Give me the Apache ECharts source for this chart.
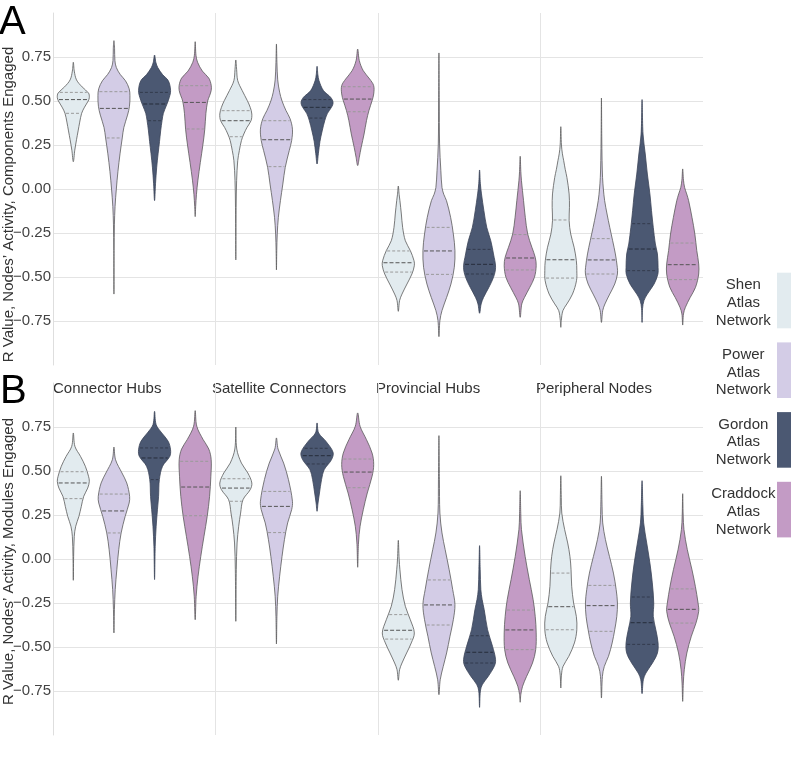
<!DOCTYPE html>
<html>
<head>
<meta charset="utf-8">
<script src="https://cdn.jsdelivr.net/npm/echarts@6.0.0/dist/echarts.min.js"></script>
<style>
  html, body { margin: 0; padding: 0; background: #fff; }
  #main { width: 793px; height: 761px; }
</style>
</head>
<body>
<div id="main"></div>
<script>
const groups = ['Connector Hubs', 'Satellite Connectors', 'Provincial Hubs', 'Peripheral Nodes']
const atlases = ['Shen', 'Power', 'Gordon', 'Craddock']
const yTicks = [-0.75, -0.5, -0.25, 0, 0.25, 0.5, 0.75]

// violin outlines, [value, relative half width], top to bottom
// order: group by group, Shen / Power / Gordon / Craddock inside each group
const shapesA = [
  [[0.72,0],[0.67,0.06],[0.62,0.2],[0.58,0.55],[0.545,0.95],[0.52,1],[0.50,0.93],[0.465,0.7],[0.43,0.52],[0.38,0.4],[0.33,0.3],[0.28,0.2],[0.22,0.09],[0.155,0]],
  [[0.843,0],[0.80,0.04],[0.73,0.06],[0.69,0.15],[0.65,0.4],[0.615,0.72],[0.57,0.95],[0.53,1],[0.47,0.97],[0.42,0.85],[0.35,0.62],[0.29,0.52],[0.2,0.38],[0.1,0.25],[0.0,0.15],[-0.1,0.07],[-0.2,0.03],[-0.35,0.01],[-0.597,0]],
  [[0.761,0],[0.72,0.08],[0.69,0.2],[0.65,0.5],[0.615,0.86],[0.56,1],[0.52,0.92],[0.47,0.72],[0.43,0.55],[0.39,0.47],[0.33,0.38],[0.27,0.31],[0.2,0.22],[0.12,0.13],[0.03,0.06],[-0.066,0]],
  [[0.837,0],[0.76,0.05],[0.72,0.15],[0.67,0.45],[0.63,0.85],[0.59,1],[0.56,1],[0.53,0.9],[0.50,0.78],[0.43,0.67],[0.34,0.6],[0.25,0.48],[0.15,0.32],[0.05,0.17],[-0.03,0.08],[-0.1,0.03],[-0.157,0]],
  [[0.733,0],[0.68,0.05],[0.616,0.12],[0.559,0.4],[0.502,0.72],[0.464,0.9],[0.426,1],[0.388,0.95],[0.35,0.7],[0.3125,0.5],[0.275,0.35],[0.218,0.22],[0.161,0.12],[0.047,0.05],[-0.104,0.02],[-0.403,0]],
  [[0.824,0],[0.72,0.03],[0.62,0.08],[0.55,0.2],[0.50,0.35],[0.445,0.6],[0.40,0.85],[0.34,1],[0.275,0.95],[0.218,0.8],[0.123,0.55],[0.028,0.4],[-0.066,0.25],[-0.161,0.12],[-0.256,0.05],[-0.35,0.02],[-0.46,0]],
  [[0.697,0],[0.65,0.05],[0.616,0.12],[0.559,0.4],[0.521,0.85],[0.492,1],[0.464,0.9],[0.43,0.65],[0.388,0.48],[0.33,0.32],[0.27,0.18],[0.2,0.08],[0.142,0]],
  [[0.795,0],[0.73,0.1],[0.672,0.35],[0.625,0.75],[0.587,1],[0.54,1],[0.502,0.9],[0.445,0.7],[0.388,0.55],[0.3125,0.4],[0.237,0.22],[0.18,0.1],[0.133,0]],
  [[0.017,0],[-0.03,0.05],[-0.066,0.1],[-0.142,0.19],[-0.218,0.27],[-0.294,0.44],[-0.35,0.75],[-0.407,0.98],[-0.436,1],[-0.483,0.85],[-0.54,0.54],[-0.597,0.23],[-0.634,0.08],[-0.695,0]],
  [[0.773,0],[0.5,0.02],[0.256,0.04],[0.104,0.12],[0.009,0.19],[-0.03,0.3],[-0.066,0.47],[-0.161,0.73],[-0.256,0.9],[-0.35,1],[-0.445,0.96],[-0.54,0.75],[-0.616,0.48],[-0.691,0.19],[-0.748,0.06],[-0.839,0]],
  [[0.108,0],[0.03,0.05],[-0.028,0.12],[-0.123,0.27],[-0.218,0.45],[-0.294,0.7],[-0.369,0.87],[-0.445,1],[-0.502,0.87],[-0.559,0.58],[-0.616,0.25],[-0.653,0.1],[-0.706,0]],
  [[0.186,0],[0.1,0.04],[0.047,0.08],[-0.066,0.21],[-0.161,0.32],[-0.256,0.47],[-0.331,0.73],[-0.388,0.94],[-0.436,1],[-0.502,0.89],[-0.559,0.6],[-0.616,0.27],[-0.653,0.1],[-0.729,0]],
  [[0.354,0],[0.25,0.04],[0.2,0.1],[0.161,0.18],[0.11,0.28],[0.066,0.38],[-0.028,0.52],[-0.104,0.54],[-0.18,0.52],[-0.256,0.62],[-0.331,0.83],[-0.407,0.97],[-0.464,1],[-0.521,0.98],[-0.597,0.73],[-0.653,0.38],[-0.691,0.13],[-0.748,0.03],[-0.786,0]],
  [[0.517,0],[0.3,0.02],[0.161,0.04],[0.066,0.07],[0.0,0.12],[-0.066,0.2],[-0.142,0.35],[-0.218,0.52],[-0.294,0.7],[-0.369,0.87],[-0.445,0.99],[-0.483,1],[-0.54,0.83],[-0.597,0.52],[-0.653,0.22],[-0.691,0.08],[-0.758,0]],
  [[0.508,0],[0.3125,0.06],[0.199,0.2],[0.085,0.33],[-0.028,0.49],[-0.123,0.59],[-0.218,0.7],[-0.3125,0.83],[-0.369,0.96],[-0.445,1],[-0.483,0.99],[-0.54,0.75],[-0.597,0.33],[-0.634,0.12],[-0.68,0.03],[-0.758,0]],
  [[0.114,0],[0.05,0.05],[0.009,0.12],[-0.028,0.25],[-0.066,0.37],[-0.161,0.58],[-0.256,0.76],[-0.35,0.88],[-0.426,1],[-0.483,1],[-0.559,0.8],[-0.616,0.47],[-0.672,0.17],[-0.71,0.05],[-0.773,0]]
]
// [Q1, median, Q3]
const quartilesA = [
  [0.43, 0.508, 0.549], [0.29, 0.458, 0.553], [0.388, 0.483, 0.549], [0.341, 0.492, 0.587],
  [0.297, 0.388, 0.445], [0.127, 0.28, 0.388], [0.403, 0.464, 0.508], [0.439, 0.511, 0.581],
  [-0.472, -0.419, -0.352], [-0.485, -0.352, -0.218], [-0.483, -0.428, -0.343], [-0.46, -0.392, -0.259],
  [-0.506, -0.402, -0.176], [-0.483, -0.403, -0.282], [-0.464, -0.341, -0.197], [-0.515, -0.43, -0.307]
]

const shapesB = [
  [[0.716,0],[0.64,0.1],[0.583,0.45],[0.527,0.75],[0.47,0.95],[0.441,1],[0.403,0.9],[0.356,0.65],[0.299,0.5],[0.242,0.35],[0.186,0.15],[0.129,0.06],[0.015,0.02],[-0.121,0]],
  [[0.636,0],[0.564,0.1],[0.489,0.5],[0.432,0.8],[0.356,0.98],[0.318,0.95],[0.242,0.7],[0.148,0.45],[0.053,0.3],[-0.061,0.18],[-0.174,0.08],[-0.288,0.03],[-0.42,0]],
  [[0.839,0],[0.763,0.1],[0.716,0.45],[0.669,0.85],[0.62,1],[0.583,0.95],[0.527,0.5],[0.451,0.3],[0.356,0.25],[0.28,0.18],[0.186,0.1],[0.072,0.04],[-0.117,0]],
  [[0.843,0],[0.754,0.1],[0.678,0.5],[0.625,0.85],[0.564,1],[0.47,0.98],[0.356,0.9],[0.242,0.75],[0.129,0.55],[0.015,0.35],[-0.098,0.18],[-0.212,0.06],[-0.345,0]],
  [[0.75,0],[0.625,0.06],[0.545,0.35],[0.489,0.75],[0.432,1],[0.394,0.9],[0.337,0.45],[0.261,0.3],[0.186,0.18],[0.091,0.08],[-0.061,0.03],[-0.354,0]],
  [[0.688,0],[0.625,0.1],[0.545,0.45],[0.451,0.75],[0.328,1],[0.28,0.95],[0.205,0.7],[0.11,0.5],[0.015,0.35],[-0.098,0.2],[-0.212,0.08],[-0.326,0.03],[-0.483,0]],
  [[0.773,0],[0.716,0.1],[0.669,0.55],[0.606,1],[0.564,0.9],[0.508,0.45],[0.451,0.28],[0.375,0.15],[0.318,0.06],[0.271,0]],
  [[0.83,0],[0.754,0.15],[0.678,0.55],[0.602,0.9],[0.536,1],[0.47,0.9],[0.375,0.6],[0.28,0.35],[0.186,0.15],[0.091,0.05],[-0.047,0]],
  [[0.106,0],[0.0,0.05],[-0.061,0.1],[-0.174,0.23],[-0.269,0.44],[-0.345,0.75],[-0.42,1],[-0.477,0.81],[-0.534,0.52],[-0.591,0.23],[-0.629,0.08],[-0.689,0]],
  [[0.701,0],[0.45,0.03],[0.261,0.06],[0.148,0.19],[0.053,0.39],[-0.061,0.64],[-0.174,0.86],[-0.259,1],[-0.345,0.9],[-0.439,0.69],[-0.534,0.48],[-0.61,0.27],[-0.686,0.08],[-0.771,0]],
  [[0.076,0],[-0.061,0.04],[-0.174,0.08],[-0.23,0.16],[-0.288,0.29],[-0.402,0.5],[-0.496,0.81],[-0.572,1],[-0.61,0.92],[-0.667,0.54],[-0.714,0.17],[-0.75,0.05],[-0.843,0]],
  [[0.388,0],[0.25,0.04],[0.167,0.08],[0.015,0.31],[-0.117,0.57],[-0.231,0.81],[-0.326,0.94],[-0.42,1],[-0.515,0.97],[-0.591,0.77],[-0.667,0.4],[-0.723,0.15],[-0.77,0.04],[-0.814,0]],
  [[0.473,0],[0.35,0.03],[0.261,0.06],[0.167,0.24],[0.091,0.43],[0.015,0.57],[-0.061,0.64],[-0.155,0.68],[-0.25,0.8],[-0.326,0.97],[-0.402,1],[-0.477,0.85],[-0.553,0.5],[-0.61,0.14],[-0.66,0.04],[-0.733,0]],
  [[0.47,0],[0.3,0.04],[0.205,0.08],[0.11,0.25],[0.015,0.5],[-0.08,0.75],[-0.174,0.92],[-0.25,1],[-0.326,0.96],[-0.402,0.83],[-0.477,0.67],[-0.553,0.44],[-0.61,0.18],[-0.667,0.06],[-0.79,0]],
  [[0.445,0],[0.3,0.05],[0.205,0.1],[0.091,0.29],[-0.023,0.49],[-0.136,0.64],[-0.25,0.73],[-0.326,0.7],[-0.402,0.86],[-0.477,1],[-0.534,0.96],[-0.591,0.65],[-0.648,0.24],[-0.686,0.08],[-0.765,0]],
  [[0.371,0],[0.25,0.03],[0.167,0.08],[0.053,0.29],[-0.061,0.58],[-0.155,0.79],[-0.25,0.96],[-0.297,1],[-0.364,0.83],[-0.439,0.54],[-0.534,0.26],[-0.629,0.1],[-0.705,0.04],[-0.809,0]]
]
const quartilesB = [
  [0.343, 0.432, 0.496], [0.148, 0.273, 0.369], [0.451, 0.574, 0.631], [0.246, 0.409, 0.555],
  [0.328, 0.403, 0.456], [0.15, 0.299, 0.384], [0.54, 0.587, 0.629], [0.405, 0.494, 0.568],
  [-0.455, -0.405, -0.316], [-0.375, -0.261, -0.119], [-0.591, -0.53, -0.436], [-0.515, -0.403, -0.29],
  [-0.402, -0.271, -0.08], [-0.411, -0.265, -0.15], [-0.485, -0.362, -0.216], [-0.364, -0.286, -0.17]
]

const fills = ['#e2ebef', '#d3cce6', '#4b5872', '#c39bc5']
const FONT = '"Liberation Sans", Arial, Helvetica, sans-serif'
const maxHalf = 0.394 // in x units (one violin slot = 1)

function widthAt(shape, v) {
  for (let k = 0; k < shape.length - 1; k++) {
    let a = shape[k], b = shape[k + 1]
    if (v <= a[0] && v >= b[0]) {
      let t = (a[0] - v) / (a[0] - b[0])
      return a[1] + (b[1] - a[1]) * t
    }
  }
  return 0
}

function violinRenderer(shapes, quarts) {
  return function (params, api) {
    let i = params.dataIndex
    let shape = shapes[i]
    let cx = api.coord([api.value(0), 0])[0]
    let half = api.size([maxHalf, 0])[0]
    let right = shape.map(p => [cx + p[1] * half, api.coord([0, p[0]])[1]])
    let left = shape.slice(1, -1).reverse().map(p => [cx - p[1] * half, api.coord([0, p[0]])[1]])
    let dark = i % 4 === 2
    let children = [{
      type: 'polygon',
      shape: { points: right.concat(left), smooth: 0.35 },
      style: { fill: fills[i % 4], stroke: dark ? '#3b4458' : '#5a5a5a', lineWidth: 0.8 }
    }]
    quarts[i].forEach((q, k) => {
      let w = widthAt(shape, q) * half
      let y = api.coord([0, q])[1]
      let isMed = k === 1
      children.push({
        type: 'line',
        shape: { x1: cx - w + 1, y1: y, x2: cx + w - 1, y2: y },
        style: {
          stroke: dark ? (isMed ? '#262d3b' : '#333b4d') : (isMed ? '#555' : '#9a9a9a'),
          lineWidth: 1,
          lineDash: isMed ? [4, 2] : [3, 2]
        }
      })
    })
    return { type: 'group', children: children }
  }
}

function yAxisOpt(gridIndex) {
  return {
    gridIndex: gridIndex,
    type: 'value', min: -1, max: 1, interval: 0.25,
    axisLine: { show: true, lineStyle: { color: '#dedede', width: 1 } },
    axisTick: { show: false },
    axisLabel: {
      showMinLabel: false, showMaxLabel: false,
      fontSize: 15, fontFamily: FONT, color: '#444', margin: 2,
      formatter: v => v.toFixed(2).replace('-', '\u2212')
    },
    splitLine: { show: true, showMinLine: false, showMaxLine: false, lineStyle: { color: '#e4e4e4', width: 1 } }
  }
}

function xAxisOpt(gridIndex) {
  return {
    gridIndex: gridIndex,
    type: 'value', min: 0, max: 16, interval: 4,
    axisLine: { show: false }, axisTick: { show: false }, axisLabel: { show: false },
    splitLine: { show: true, showMinLine: false, showMaxLine: false, lineStyle: { color: '#e4e4e4', width: 1 } }
  }
}

let graphics = []
graphics.push({ type: 'text', x: -1, y: 23, style: { text: 'A', fontSize: 40, fontFamily: FONT, fill: '#000', verticalAlign: 'middle' } })
graphics.push({ type: 'text', x: 0, y: 392, style: { text: 'B', fontSize: 40, fontFamily: FONT, fill: '#000', verticalAlign: 'middle' } })
let groupLabelX = [53, 212, 376, 536]
groups.forEach((g, k) => {
  graphics.push({ type: 'text', x: groupLabelX[k], y: 389, style: { text: g, fontSize: 15, fontFamily: FONT, fill: '#333', verticalAlign: 'middle' } })
})
graphics.push({ type: 'text', x: 9, y: 204.5, rotation: Math.PI / 2, style: { text: 'R Value, Nodes\u2019 Activity, Components Engaged', fontSize: 15, fontFamily: FONT, fill: '#333', align: 'center', verticalAlign: 'middle' } })
graphics.push({ type: 'text', x: 9, y: 561.5, rotation: Math.PI / 2, style: { text: 'R Value, Nodes\u2019 Activity, Modules Engaged', fontSize: 15, fontFamily: FONT, fill: '#333', align: 'center', verticalAlign: 'middle' } })
// legend
atlases.forEach((a, k) => {
  let top = 272.7 + k * 69.7
  graphics.push({ type: 'rect', shape: { x: 777, y: top, width: 14, height: 55.6 }, style: { fill: fills[k] } })
  graphics.push({ type: 'text', x: 743.3, y: top + 30, style: { text: a + '\nAtlas\nNetwork', fontSize: 15, lineHeight: 17.7, fontFamily: FONT, fill: '#333', align: 'center', verticalAlign: 'middle' } })
})

const chart = echarts.init(document.getElementById('main'), null, { renderer: 'canvas' })
chart.setOption({
  backgroundColor: '#fff',
  animation: false,
  grid: [
    { left: 53, top: 13, width: 650, height: 352 },
    { left: 53, top: 383, width: 650, height: 352 }
  ],
  xAxis: [xAxisOpt(0), xAxisOpt(1)],
  yAxis: [yAxisOpt(0), yAxisOpt(1)],
  graphic: graphics,
  series: [
    {
      type: 'custom', name: 'Panel A', xAxisIndex: 0, yAxisIndex: 0,
      renderItem: violinRenderer(shapesA, quartilesA),
      encode: { x: 0, y: 1 },
      data: quartilesA.map((q, i) => [i + 0.5, q[1]])
    },
    {
      type: 'custom', name: 'Panel B', xAxisIndex: 1, yAxisIndex: 1,
      renderItem: violinRenderer(shapesB, quartilesB),
      encode: { x: 0, y: 1 },
      data: quartilesB.map((q, i) => [i + 0.5, q[1]])
    }
  ]
})
</script>
</body>
</html>
